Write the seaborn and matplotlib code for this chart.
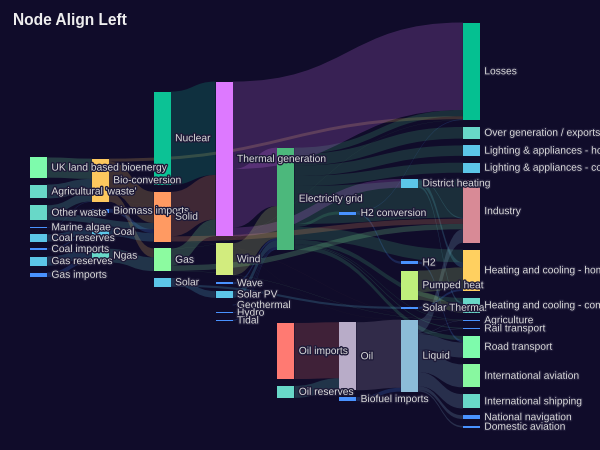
import numpy as np
import matplotlib.pyplot as plt
import matplotlib.patheffects as pe
from matplotlib.path import Path
from matplotlib.patches import PathPatch
import seaborn as sns

BG = "#100c2a"
sns.set_theme(style="dark", rc={"figure.facecolor": BG, "axes.facecolor": BG})
plt.rcParams["font.family"] = ["Liberation Sans", "DejaVu Sans"]

# colonnes du sankey (profondeur), dans l'ordre des donnees d'origine
col_0 = ["Agricultural 'waste'", "Coal imports", "Coal reserves", "Gas imports",
         "Gas reserves", "Marine algae", "Other waste", "UK land based bioenergy"]
col_1 = ["Bio-conversion", "Biomass imports", "Coal", "Ngas"]
col_2 = ["Solid", "Gas", "Nuclear", "Solar"]
col_3 = ["Thermal generation", "Geothermal", "Hydro", "Solar PV", "Tidal", "Wave", "Wind"]
col_4 = ["Electricity grid", "Oil imports", "Oil reserves"]
col_5 = ["Biofuel imports", "H2 conversion", "Oil"]
col_6 = ["Liquid", "District heating", "H2", "Pumped heat", "Solar Thermal"]
col_7 = ["Losses", "Industry", "Heating and cooling - commercial",
         "Heating and cooling - homes", "Over generation / exports", "Road transport",
         "Agriculture", "Rail transport", "Lighting & appliances - commercial",
         "Lighting & appliances - homes", "International shipping", "Domestic aviation",
         "International aviation", "National navigation"]
COLUMNS = [col_0, col_1, col_2, col_3, col_4, col_5, col_6, col_7]

link_source = [
    "Agricultural 'waste'", "Bio-conversion", "Bio-conversion", "Bio-conversion", "Bio-conversion",
    "Biofuel imports", "Biomass imports", "Coal imports", "Coal reserves", "Coal",
    "District heating", "District heating", "District heating",
    "Electricity grid", "Electricity grid", "Electricity grid", "Electricity grid", "Electricity grid",
    "Electricity grid", "Electricity grid", "Electricity grid", "Electricity grid", "Electricity grid",
    "Electricity grid",
    "Gas imports", "Gas reserves", "Gas", "Gas", "Gas", "Gas", "Gas",
    "Geothermal", "H2 conversion", "H2 conversion", "H2", "Hydro",
    "Liquid", "Liquid", "Liquid", "Liquid", "Liquid", "Liquid", "Liquid", "Liquid",
    "Marine algae", "Ngas", "Nuclear", "Oil imports", "Oil reserves", "Oil",
    "Other waste", "Other waste", "Pumped heat", "Pumped heat", "Solar PV", "Solar Thermal",
    "Solar", "Solar", "Solid", "Solid", "Solid",
    "Thermal generation", "Thermal generation", "Thermal generation",
    "Tidal", "UK land based bioenergy", "Wave", "Wind",
]
link_target = [
    "Bio-conversion", "Liquid", "Losses", "Solid", "Gas",
    "Liquid", "Solid", "Coal", "Coal", "Solid",
    "Industry", "Heating and cooling - commercial", "Heating and cooling - homes",
    "Over generation / exports", "Heating and cooling - homes", "H2 conversion", "Industry",
    "Road transport", "Agriculture", "Heating and cooling - commercial", "Losses",
    "Rail transport", "Lighting & appliances - commercial", "Lighting & appliances - homes",
    "Ngas", "Ngas", "Heating and cooling - commercial", "Losses", "Thermal generation",
    "Agriculture", "Industry",
    "Electricity grid", "H2", "Losses", "Road transport", "Electricity grid",
    "Industry", "International shipping", "Road transport", "Domestic aviation",
    "International aviation", "Agriculture", "National navigation", "Rail transport",
    "Bio-conversion", "Gas", "Thermal generation", "Oil", "Oil", "Liquid",
    "Solid", "Bio-conversion", "Heating and cooling - homes", "Heating and cooling - commercial",
    "Electricity grid", "Heating and cooling - homes",
    "Solar Thermal", "Solar PV", "Agriculture", "Thermal generation", "Industry",
    "Electricity grid", "Losses", "District heating",
    "Electricity grid", "Bio-conversion", "Electricity grid", "Electricity grid",
]
link_value = [
    124.729, 0.597, 26.862, 280.322, 81.144,
    35, 35, 11.606, 63.965, 75.571,
    10.639, 22.505, 46.184,
    104.453, 113.726, 27.14, 342.165, 37.797, 4.412, 40.858, 56.691, 7.863, 90.008, 93.494,
    40.719, 82.233, 0.129, 1.401, 151.891, 2.096, 48.58,
    7.013, 20.897, 6.242, 20.897, 6.995,
    121.066, 128.69, 135.835, 14.458, 206.267, 3.64, 33.218, 4.413,
    4.375, 122.952, 839.978, 504.287, 107.703, 611.99,
    56.587, 77.81, 193.026, 70.672, 59.901, 19.263,
    19.263, 59.901, 0.882, 400.12, 46.477,
    525.531, 787.129, 79.329,
    9.452, 182.01, 19.013, 289.366,
]

# couleurs des noeuds
BLUE, LBLUE, MINT, LGREEN = "#4992ff", "#5cc6e8", "#68d8c8", "#7efbac"
NODE_COLORS = {
    "UK land based bioenergy": LGREEN, "Agricultural 'waste'": MINT, "Other waste": MINT,
    "Marine algae": BLUE, "Coal reserves": LBLUE, "Coal imports": BLUE,
    "Gas reserves": LBLUE, "Gas imports": BLUE,
    "Bio-conversion": "#fdc85e", "Biomass imports": BLUE, "Coal": LBLUE, "Ngas": MINT,
    "Nuclear": "#0cc295", "Solid": "#ff9a62", "Gas": "#8cfba0", "Solar": LBLUE,
    "Thermal generation": "#dd79ff", "Wind": "#d2ec7e", "Wave": BLUE, "Solar PV": LBLUE,
    "Geothermal": BLUE, "Hydro": BLUE, "Tidal": BLUE,
    "Electricity grid": "#4cb87c", "Oil imports": "#ff7a72", "Oil reserves": MINT,
    "H2 conversion": BLUE, "Oil": "#b8acc8", "Biofuel imports": BLUE,
    "District heating": LBLUE, "H2": BLUE, "Pumped heat": "#bff07c", "Solar Thermal": BLUE,
    "Liquid": "#8cbcd8",
    "Losses": "#05c091", "Over generation / exports": MINT,
    "Lighting & appliances - homes": LBLUE, "Lighting & appliances - commercial": LBLUE,
    "Industry": "#d88a96", "Heating and cooling - homes": "#ffd060",
    "Heating and cooling - commercial": MINT, "Agriculture": BLUE, "Rail transport": BLUE,
    "Road transport": LGREEN, "International aviation": "#88f8a0",
    "International shipping": MINT, "National navigation": BLUE, "Domestic aviation": BLUE,
}

W, H = 600, 450
SCALE = 6 / 7
NODE_W = 20 * SCALE
GAP = 8 * SCALE


def sankey_layout(columns, src, tgt, val, x0, y0, width, height, iterations=32):
    """Placement des noeuds facon echarts (relaxation + collisions)."""
    names = [n for col in columns for n in col]
    depth = {n: d for d, col in enumerate(columns) for n in col}
    ins = {n: [] for n in names}
    outs = {n: [] for n in names}
    for i, (s, t) in enumerate(zip(src, tgt)):
        outs[s].append(i)
        ins[t].append(i)
    value = {n: max(sum(val[i] for i in ins[n]), sum(val[i] for i in outs[n])) for n in names}
    ky = min((height - (len(c) - 1) * GAP) / sum(value[n] for n in c) for c in columns)
    dy = {n: value[n] * ky for n in names}
    y = {n: float(i) for c in columns for i, n in enumerate(c)}
    cols = [list(c) for c in columns]

    def center(n):
        return y[n] + dy[n] / 2

    def resolve():
        for col in cols:
            col.sort(key=lambda n: y[n])
            yy = 0
            for n in col:
                d = yy - y[n]
                if d > 0:
                    y[n] += d
                yy = y[n] + dy[n] + GAP
            d = yy - GAP - height
            if d > 0:
                y[col[-1]] -= d
                yy = y[col[-1]]
                for n in reversed(col[:-1]):
                    d = y[n] + dy[n] + GAP - yy
                    if d > 0:
                        y[n] -= d
                    yy = y[n]

    resolve()
    alpha = 1.0
    for _ in range(iterations):
        alpha *= 0.99
        for col in reversed(cols):
            for n in col:
                if outs[n]:
                    c = sum(center(tgt[i]) * val[i] for i in outs[n]) / sum(val[i] for i in outs[n])
                    y[n] += (c - center(n)) * alpha
        resolve()
        for col in cols:
            for n in col:
                if ins[n]:
                    c = sum(center(src[i]) * val[i] for i in ins[n]) / sum(val[i] for i in ins[n])
                    y[n] += (c - center(n)) * alpha
        resolve()

    # position des liens sur chaque noeud
    sy, ty = {}, {}
    for n in names:
        acc = 0
        for i in sorted(outs[n], key=lambda i: y[tgt[i]]):
            sy[i] = acc
            acc += val[i] * ky
        acc = 0
        for i in sorted(ins[n], key=lambda i: y[src[i]]):
            ty[i] = acc
            acc += val[i] * ky

    kx = (width - NODE_W) / (len(columns) - 1)
    nx = {n: x0 + depth[n] * kx for n in names}
    ny = {n: y0 + y[n] for n in names}
    return names, nx, ny, dy, sy, ty, ky


names, nx, ny, ndy, sy, ty, ky = sankey_layout(
    COLUMNS, link_source, link_target, link_value,
    0.05 * W, 0.05 * H, 0.75 * W, 0.9 * H)

fig = plt.figure(figsize=(6, 4.5), dpi=100)
ax = fig.add_axes([0, 0, 1, 1])
ax.set_xlim(0, W)
ax.set_ylim(H, 0)
ax.axis("off")

# liens (courbes de bezier, curveness 0.5)
for i, (s, t, v) in enumerate(zip(link_source, link_target, link_value)):
    x1 = nx[s] + NODE_W
    x2 = nx[t]
    y1 = ny[s] + sy[i]
    y2 = ny[t] + ty[i]
    e = v * ky
    cx = (x1 + x2) / 2
    verts = [(x1, y1), (cx, y1), (cx, y2), (x2, y2),
             (x2, y2 + e), (cx, y2 + e), (cx, y1 + e), (x1, y1 + e), (x1, y1)]
    codes = [Path.MOVETO, Path.CURVE4, Path.CURVE4, Path.CURVE4,
             Path.LINETO, Path.CURVE4, Path.CURVE4, Path.CURVE4, Path.CLOSEPOLY]
    ax.add_patch(PathPatch(Path(verts, codes), facecolor=NODE_COLORS[s],
                           edgecolor="none", alpha=0.2, lw=0))

# noeuds
ax.bar([nx[n] for n in names], [ndy[n] for n in names], width=NODE_W,
       bottom=[ny[n] for n in names], align="edge",
       color=[NODE_COLORS[n] for n in names], edgecolor="none", linewidth=0)

# etiquettes
for n in names:
    ax.text(nx[n] + NODE_W + 5 * SCALE, ny[n] + ndy[n] / 2, n, ha="left", va="center",
            fontsize=7.4, color="#dcdcdc",
            path_effects=[pe.withStroke(linewidth=2, foreground="#1e1a38")])

ax.text(13, 25, "Node Align Left", ha="left", va="baseline", fontsize=11.2,
        fontweight="bold", color="#eeeeee")

fig.savefig("out.png", dpi=100, facecolor=BG)
